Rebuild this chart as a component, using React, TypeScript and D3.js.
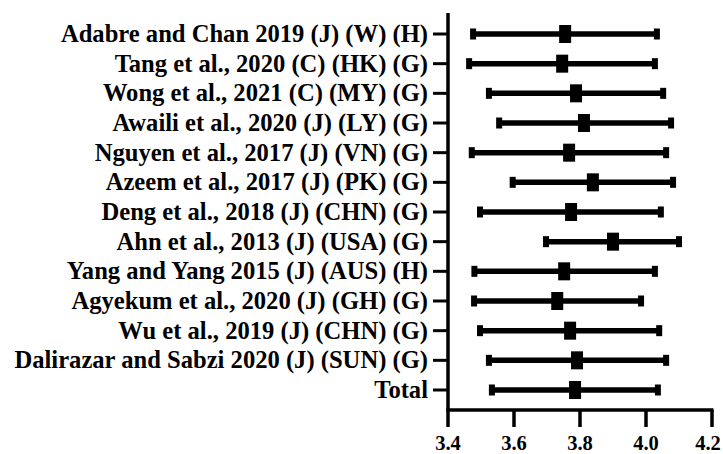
import React from "react";
import * as d3 from "d3";

const studies = [
  "Adabre and Chan 2019 (J) (W) (H)",
  "Tang et al., 2020 (C) (HK) (G)",
  "Wong et al., 2021 (C) (MY) (G)",
  "Awaili et al., 2020 (J) (LY) (G)",
  "Nguyen et al., 2017 (J) (VN) (G)",
  "Azeem et al., 2017 (J) (PK) (G)",
  "Deng et al., 2018 (J) (CHN) (G)",
  "Ahn et al., 2013 (J) (USA) (G)",
  "Yang and Yang 2015 (J) (AUS) (H)",
  "Agyekum et al., 2020 (J) (GH) (G)",
  "Wu et al., 2019 (J) (CHN) (G)",
  "Dalirazar and Sabzi 2020 (J) (SUN) (G)",
  "Total",
];
const means = [3.755, 3.746, 3.788, 3.812, 3.767, 3.839, 3.773, 3.9, 3.752, 3.731, 3.77, 3.791, 3.785];
const lows = [3.476, 3.464, 3.524, 3.555, 3.472, 3.596, 3.497, 3.697, 3.48, 3.479, 3.497, 3.524, 3.533];
const highs = [4.033, 4.027, 4.052, 4.076, 4.061, 4.082, 4.045, 4.1, 4.027, 3.985, 4.04, 4.061, 4.036];
const xTicks = [3.4, 3.6, 3.8, 4.0, 4.2];

export default function App() {
  const W = 723, H = 454;
  const x = d3.scaleLinear().domain([3.4, 4.2]).range([448, 712]);
  const y = d3.scalePoint<string>().domain(studies).range([34, 390]);
  const axisY = 410;
  const font = "'Liberation Serif', 'Times New Roman', serif";
  return (
    <svg width={W} height={H} style={{ position: "absolute", left: 0, top: 0, background: "#fff" }}>
      {/* y axis */}
      <line x1={x(3.4)} x2={x(3.4)} y1={13} y2={axisY + 1.5} stroke="#000" strokeWidth={3.5} />
      {studies.map((s) => (
        <g key={s}>
          <line x1={433} x2={x(3.4)} y1={y(s)} y2={y(s)} stroke="#000" strokeWidth={3} />
          <text x={428} y={y(s)} dy="0.33em" textAnchor="end" fontFamily={font} fontWeight="bold" fontSize={24.6} fill="#000">
            {s}
          </text>
        </g>
      ))}
      {/* x axis */}
      <line x1={x(3.4) - 1.5} x2={x(4.2) + 1.5} y1={axisY} y2={axisY} stroke="#000" strokeWidth={3.5} />
      {xTicks.map((t, i) => (
        <g key={t}>
          <line x1={x(t)} x2={x(t)} y1={axisY} y2={427} stroke="#000" strokeWidth={3.5} />
          <text
            x={x(t)}
            dx={i === xTicks.length - 1 ? -4 : 0}
            y={450}
            textAnchor="middle"
            fontFamily={font}
            fontWeight="bold"
            fontSize={20.5}
            fill="#000"
          >
            {t.toFixed(1)}
          </text>
        </g>
      ))}
      {/* error bars */}
      {studies.map((s, i) => {
        const cy = y(s) as number;
        return (
          <g key={"b" + s}>
            <line x1={x(lows[i])} x2={x(highs[i])} y1={cy} y2={cy} stroke="#000" strokeWidth={5.5} />
            <rect x={x(lows[i]) - 3} y={cy - 5.5} width={6} height={11} fill="#000" />
            <rect x={x(highs[i]) - 3} y={cy - 5.5} width={6} height={11} fill="#000" />
            <rect x={x(means[i]) - 6} y={cy - 9} width={12} height={18} fill="#000" />
          </g>
        );
      })}
    </svg>
  );
}
